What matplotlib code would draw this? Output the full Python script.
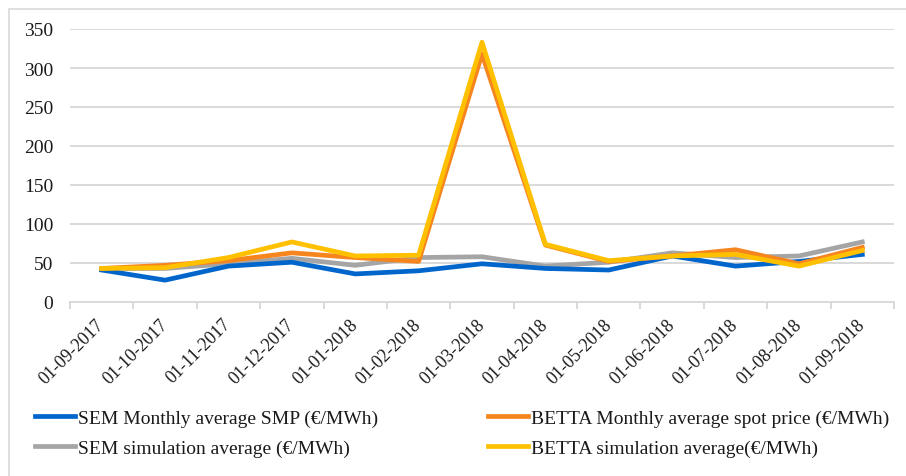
import numpy as np
import matplotlib
matplotlib.use("Agg")
import matplotlib.pyplot as plt
from matplotlib.patches import Rectangle

months = ['01-09-2017', '01-10-2017', '01-11-2017', '01-12-2017', '01-01-2018',
          '01-02-2018', '01-03-2018', '01-04-2018', '01-05-2018', '01-06-2018',
          '01-07-2018', '01-08-2018', '01-09-2018']

sem_smp = [41, 28, 46, 51, 36, 40, 49, 43, 41, 59, 46, 52, 61]
betta_spot = [43, 47, 53, 63, 57, 52, 318, 73, 52, 59, 67, 49, 70]
sem_sim = [43, 43, 49, 56, 47, 57, 58, 46, 51, 63, 57, 59, 77]
betta_sim = [43, 44, 57, 77, 59, 60, 333, 74, 53, 59, 61, 46, 66]

plt.rcParams['font.family'] = ['Liberation Serif', 'DejaVu Serif']

W, H = 906, 477
fig = plt.figure(figsize=(W / 100, H / 100), dpi=100)
ax = fig.add_axes([70 / W, 1 - 303 / H, (894 - 70) / W, (303 - 30) / H])

# light outer frame
fig.patches.append(Rectangle((9 / W, -0.1), 2.0, (H - 10) / H + 0.1,
                             transform=fig.transFigure, fill=False,
                             edgecolor='#d9d9d9', linewidth=1.2))

x = np.arange(len(months))
lw = 3.4
ax.plot(x, sem_smp, color='#0066CC', lw=lw, label='SEM Monthly average SMP (€/MWh)', zorder=3)
ax.plot(x, sem_sim, color='#A5A5A5', lw=lw, label='SEM simulation average (€/MWh)', zorder=2)
ax.plot(x, betta_spot, color='#F7851E', lw=lw, label='BETTA Monthly average spot price (€/MWh)', zorder=4)
ax.plot(x, betta_sim, color='#FFC000', lw=lw, label='BETTA simulation average(€/MWh)', zorder=5)

ax.set_xlim(-0.5, len(months) - 0.5)
ax.set_ylim(0, 350)
ax.set_yticks(range(0, 351, 50))
ax.yaxis.grid(True, color='#d9d9d9', lw=1.4)
ax.set_axisbelow(True)
for s in ['left', 'right', 'top']:
    ax.spines[s].set_visible(False)
ax.spines['bottom'].set_color('#d9d9d9')
ax.spines['bottom'].set_linewidth(1.4)

ax.tick_params(axis='y', length=0, pad=12, labelsize=14, labelcolor='#1a1a1a')
ax.set_xticks(x)
ax.set_xticklabels(months, rotation=45, ha='right', va='center', rotation_mode='anchor',
                   fontsize=13, color='#1a1a1a')
ax.tick_params(axis='x', which='major', length=0, pad=14)
ax.set_xticks(np.arange(-0.5, len(months), 1), minor=True)
ax.tick_params(axis='x', which='minor', length=5, color='#d9d9d9', width=1.4)

handles, labels = ax.get_legend_handles_labels()
fig.legend(handles, labels, ncol=2, loc='upper left', bbox_to_anchor=(35 / W, 1 - 410 / H),
           frameon=False, fontsize=14, handlelength=2.06, handletextpad=0.15,
           columnspacing=5.66, labelspacing=0.65, borderpad=0, borderaxespad=0,
           labelcolor='#1a1a1a')

fig.savefig('out.png', dpi=100)
